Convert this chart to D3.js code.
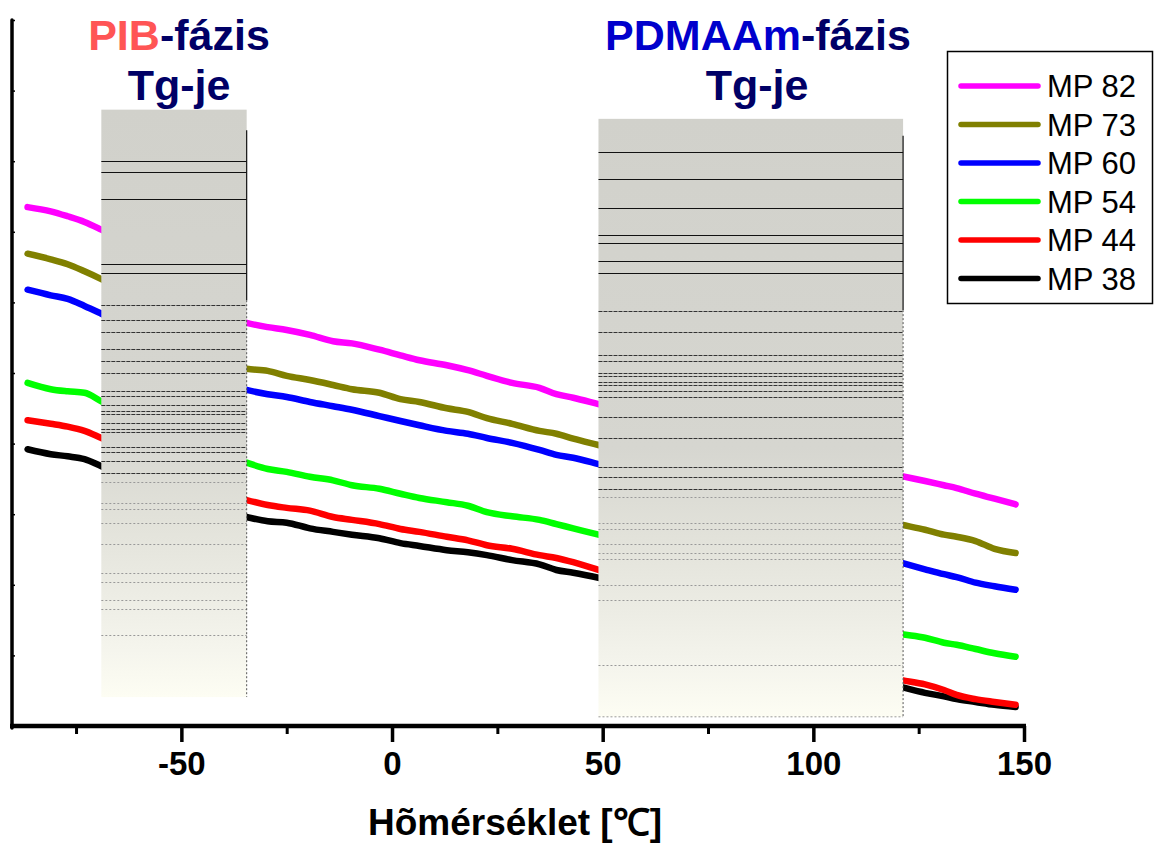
<!DOCTYPE html>
<html><head><meta charset="utf-8">
<script src="https://cdn.jsdelivr.net/npm/d3@7/dist/d3.min.js"></script>
<style>body{margin:0;background:#fff}svg{display:block;font-family:"Liberation Sans",Arial,sans-serif}</style>
</head><body><svg id="c" width="1154" height="844"></svg>
<script>
// ---- data ----
const temps = [-86.5,-81,-77,-73,-69,-34.5,-29.5,-25,-19.5,-14,-9.5,-3,2,6.5,13,18,22.5,28.5,35,39,43,49,121,126.5,131,134,138.5,143,148];
const seriesNames = ["MP 82","MP 73","MP 60","MP 54","MP 44","MP 38"];
const mp82 = [7.35,7.29,7.22,7.14,7.03,5.71,5.65,5.61,5.54,5.45,5.42,5.33,5.25,5.18,5.11,5.04,4.96,4.86,4.79,4.70,4.65,4.56,3.54,3.47,3.41,3.37,3.29,3.22,3.14];
const mp73 = [6.69,6.61,6.54,6.44,6.33,5.06,5.03,4.96,4.90,4.83,4.77,4.72,4.63,4.59,4.50,4.45,4.36,4.28,4.18,4.14,4.07,3.98,2.85,2.78,2.71,2.68,2.62,2.51,2.45];
const mp60 = [6.18,6.10,6.05,5.95,5.84,4.76,4.70,4.66,4.59,4.53,4.48,4.39,4.32,4.26,4.18,4.14,4.08,4.01,3.91,3.84,3.80,3.71,2.31,2.22,2.15,2.11,2.03,1.98,1.93];
const mp54 = [4.86,4.77,4.74,4.72,4.60,3.73,3.64,3.60,3.53,3.48,3.41,3.36,3.29,3.23,3.17,3.12,3.03,2.97,2.92,2.86,2.80,2.71,1.30,1.25,1.18,1.15,1.09,1.03,0.98];
const mp44 = [4.33,4.28,4.24,4.18,4.08,3.20,3.13,3.09,3.05,2.96,2.92,2.86,2.79,2.75,2.68,2.63,2.56,2.51,2.42,2.38,2.32,2.21,0.65,0.59,0.51,0.44,0.38,0.34,0.30];
const mp38 = [3.92,3.85,3.82,3.78,3.68,2.96,2.90,2.88,2.80,2.75,2.71,2.66,2.59,2.55,2.49,2.46,2.42,2.35,2.29,2.21,2.17,2.10,0.55,0.47,0.42,0.38,0.34,0.30,0.27];
const seriesValues = [mp82, mp73, mp60, mp54, mp44, mp38];
const seriesColors = ["#ff00ff","#808000","#0000ff","#00ff00","#ff0000","#000000"];
const majorTicks = [-50,0,50,100,150];
const majorLabels = ["-50","0","50","100","150"];
const minorTicks = [-75,-25,25,75,125];
const xTitle = "Hõmérséklet [℃]";
// shaded Tg regions: [tStart, tEnd, vTop, vBottom, vEdgeTop]
const regionPIB = [-69, -34.5, 8.73, 0.41, 8.44];
const regionPDMAAm = [49, 121.3, 8.60, 0.13, 8.36];
const linesPIB = [8.00,7.85,7.46,6.54,6.42,5.96,5.75,5.58,5.34,5.17,5.00,4.74,4.67,4.55,4.46,4.42,4.29,4.21,4.16,3.95,3.88,3.75,3.58,3.46,3.16,3.07,2.88,2.58,2.17,2.04,1.78,1.66,1.29];
const linesPDMAAm = [8.13,7.75,7.34,6.95,6.84,6.59,6.42,5.88,5.58,5.25,5.17,5.00,4.96,4.87,4.83,4.74,4.66,4.38,4.08,3.67,3.53,3.36,3.24,2.88,2.79,2.58,2.45,2.37,2.00,1.78,0.86];

// ---- chart ----
const svg = d3.select("#c");
const x = d3.scaleLinear().domain([-90.2,150]).range([12,1024]);
const y = d3.scaleLinear().domain([0,10]).range([726,20]);

const defs = svg.append("defs");
const g = defs.append("linearGradient").attr("id","shade").attr("x1",0).attr("y1",0).attr("x2",0).attr("y2",1);
[[0,"#d1d1cb"],[0.55,"#d6d6d0"],[0.7,"#e2e2da"],[0.82,"#ecece4"],[0.92,"#f5f5ed"],[1,"#fdfdf3"]].forEach(s=>g.append("stop").attr("offset",s[0]).attr("stop-color",s[1]));

const line = d3.line().x((d,i)=>x(temps[i])).y(d=>y(d)).curve(d3.curveMonotoneX);
[5,4,3,2,1,0].forEach(k=>{
  svg.append("path").attr("d",line(seriesValues[k])).attr("fill","none")
    .attr("stroke",seriesColors[k]).attr("stroke-width",6.5).attr("stroke-linecap","round").attr("stroke-linejoin","round");
});

function drawRegion(r, lines, bottomLine){
  const x0=x(r[0]), x1=x(r[1]), yt=y(r[2]), yb=y(r[3]);
  svg.append("rect").attr("x",x0).attr("y",yt).attr("width",x1-x0).attr("height",yb-yt).attr("fill","url(#shade)");
  lines.forEach(v=>{
    const f=(y(v)-yt)/(yb-yt);
    const l=svg.append("line").attr("x1",x0).attr("x2",x1).attr("y1",Math.round(y(v))+0.5).attr("y2",Math.round(y(v))+0.5);
    if(f<0.3) l.attr("stroke","#111").attr("stroke-width",1.2);
    else if(f<0.62) l.attr("stroke","#333").attr("stroke-width",1).attr("stroke-dasharray","4,1");
    else l.attr("stroke","#999").attr("stroke-width",1).attr("stroke-dasharray","2,2");
  });
  const ye=y(r[4]), ym=ye+(yb-ye)*0.3;
  svg.append("line").attr("x1",x1).attr("x2",x1).attr("y1",ye).attr("y2",ym).attr("stroke","#111").attr("stroke-width",1.2);
  svg.append("line").attr("x1",x1).attr("x2",x1).attr("y1",ym).attr("y2",yb).attr("stroke","#555").attr("stroke-width",1).attr("stroke-dasharray","2,2");
  if(bottomLine) svg.append("line").attr("x1",x0).attr("x2",x1).attr("y1",yb).attr("y2",yb).attr("stroke","#999").attr("stroke-width",1).attr("stroke-dasharray","2,2");
}
drawRegion(regionPIB, linesPIB, false);
drawRegion(regionPDMAAm, linesPDMAAm, true);

// axes
const xMinor = svg.append("g").attr("transform","translate(0,726)")
  .call(d3.axisBottom(x).tickValues(minorTicks).tickSize(8).tickFormat(""));
xMinor.select(".domain").remove();
xMinor.selectAll(".tick line").attr("stroke","#000").attr("stroke-width",3);
const xMajor = svg.append("g").attr("transform","translate(0,726)")
  .call(d3.axisBottom(x).tickValues(majorTicks).tickSize(16).tickPadding(10).tickFormat((d,i)=>majorLabels[i]));
xMajor.select(".domain").remove();
xMajor.selectAll(".tick line").attr("stroke","#000").attr("stroke-width",3.5);
xMajor.selectAll(".tick text").attr("font-size",33).attr("font-weight","bold").attr("fill","#000")
  .attr("font-family","'Liberation Sans',Arial,sans-serif");
svg.append("line").attr("x1",10).attr("x2",1026).attr("y1",726).attr("y2",726).attr("stroke","#000").attr("stroke-width",4.5);

const yAx = svg.append("g").attr("transform","translate(12,0)")
  .call(d3.axisRight(y).ticks(10).tickSize(3).tickFormat(""));
yAx.select(".domain").remove();
yAx.selectAll(".tick line").attr("stroke","#000").attr("stroke-width",1.5);
svg.append("line").attr("x1",12).attr("x2",12).attr("y1",y(10)).attr("y2",728).attr("stroke","#000").attr("stroke-width",3.5).attr("stroke-linecap","round");

svg.append("text").attr("x",515).attr("y",835).attr("text-anchor","middle")
  .attr("font-size",37).attr("font-weight","bold").text(xTitle);

function title(cx, parts, yb){
  const t=svg.append("text").attr("x",cx).attr("y",yb).attr("text-anchor","middle").attr("font-size",43).attr("font-weight","bold");
  parts.forEach(p=>t.append("tspan").attr("fill",p[1]).text(p[0]));
}
title(179,[["PIB","#ff5555"],["-fázis","#000066"]],50);
title(179,[["Tg-je","#000066"]],100);
title(758,[["PDMAAm","#0000cc"],["-fázis","#000066"]],50);
title(757,[["Tg-je","#000066"]],100);

const lg = svg.append("g");
lg.append("rect").attr("x",947.5).attr("y",51.5).attr("width",205).attr("height",252).attr("fill","#fff").attr("stroke","#000").attr("stroke-width",1.5);
seriesNames.forEach((n,i)=>{
  const yy=86+i*38.5;
  lg.append("line").attr("x1",961).attr("x2",1038).attr("y1",yy).attr("y2",yy).attr("stroke",seriesColors[i]).attr("stroke-width",5.5).attr("stroke-linecap","round");
  lg.append("text").attr("x",1047).attr("y",yy+11).attr("font-size",31).attr("fill","#000").text(n);
});
</script></body></html>
